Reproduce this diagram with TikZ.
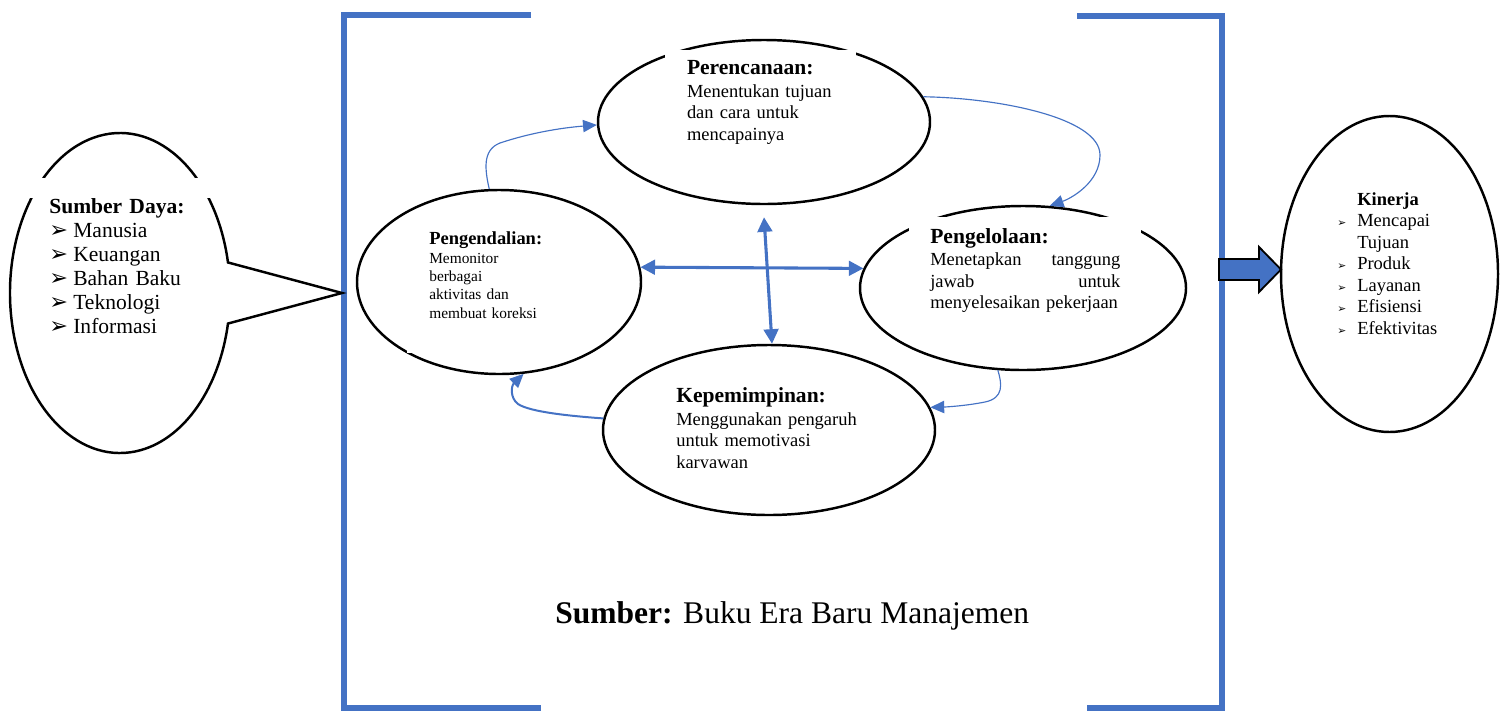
\documentclass[tikz,border=0pt]{standalone}
\usepackage{fontspec}
\setmainfont{Liberation Serif}
\newfontfamily\dejavu{DejaVu Sans}
\usetikzlibrary{shapes.geometric,shapes.callouts,arrows.meta,calc}
\definecolor{obl}{HTML}{4472C4}
\begin{document}
\begin{tikzpicture}[x=0.65pt,y=-0.65pt,
  ell/.style={ellipse, draw=black, line width=1.6pt, inner sep=0pt},
  txt/.style={anchor=base west, inner sep=0pt, align=left, text width=200pt, font=\fontsize{12}{14}\selectfont},
  bracket/.style={draw=obl, line width=3.3pt, line join=miter},
  thin/.style={draw=obl, line width=0.75pt, -{Triangle[length=9pt,width=8pt]}},
  mid/.style={draw=obl, line width=1.3pt, -{Triangle[length=9pt,width=8pt]}},
  dbl/.style={draw=obl, line width=2pt, {Triangle[length=9.5pt,width=9.5pt]}-{Triangle[length=9.5pt,width=9.5pt]}},
]
\useasboundingbox (0,0) rectangle (1506,711);
\newcommand{\bigbul}{\makebox[15.6pt][l]{\dejavu\fontsize{14.5}{14}\selectfont ➢}}
\newcommand{\smbul}{\makebox[13pt][l]{\dejavu\fontsize{7}{7}\selectfont ➢}}

% blue brackets
\draw[bracket] (531,15) -- (344,15) -- (344,708) -- (541,708);
\draw[bracket] (1077,16) -- (1222,16) -- (1222,708) -- (1087,708);

% left callout
\node[ellipse callout, draw=black, line width=1.6pt, inner sep=0pt,
  minimum width=220*0.65pt, minimum height=320*0.65pt,
  callout absolute pointer={(342,293)}, callout pointer arc=22] (sd) at (120,293) {};
\fill[white] (18,178) rectangle (218,198);
\node[txt, font=\fontsize{14}{15.6}\selectfont] (sdt) at (49,213)
  {{\bfseries Sumber Daya:}\\
   \bigbul Manusia\\
   \bigbul Keuangan\\
   \bigbul Bahan Baku\\
   \bigbul Teknologi\\
   \bigbul Informasi};

% ellipses
\node[ell, minimum width=332*0.65pt, minimum height=164*0.65pt] (pr) at (764,122) {};
\node[ell, minimum width=284*0.65pt, minimum height=184*0.65pt] (pd) at (499,282) {};
\node[ell, minimum width=326*0.65pt, minimum height=164*0.65pt] (pl) at (1023,288) {};
\node[ell, minimum width=332*0.65pt, minimum height=170*0.65pt] (kp) at (769,430) {};
\node[ell, minimum width=217*0.65pt, minimum height=316*0.65pt] (ki) at (1389.5,274) {};

% text box patches
\fill[white] (665,49.5) rectangle (856,160);
\fill[white] (909,216.5) rectangle (1141,330);
\fill[white] (407,216) rectangle (560,353);

% texts
\node[txt] (prt) at (686.7,74)
  {{\fontsize{14}{16}\selectfont\bfseries Perencanaan:}\\[1pt]
   Menentukan tujuan\\ dan cara untuk\\ mencapainya};
\node[txt, font=\fontsize{10}{11.9}\selectfont] (pdt) at (429,244)
  {{\fontsize{12}{14}\selectfont\bfseries Pengendalian:}\\[0.6pt]
   Memonitor\\ berbagai\\ aktivitas dan\\ membuat koreksi};
\node[txt, text width=123.5pt] (plt) at (930,243.3)
  {{\fontsize{14}{16}\selectfont\bfseries Pengelolaan:}\\[0.5pt]
   Menetapkan\hfill tanggung\\ jawab\hfill untuk\\ menyelesaikan pekerjaan};
\begin{scope}
\clip (600,380) rectangle (930,467);
\node[txt] (kpt) at (676,402)
  {{\fontsize{14}{16}\selectfont\bfseries Kepemimpinan:}\\[1pt]
   Menggunakan pengaruh\\ untuk memotivasi\\ karyawan};
\end{scope}
\node[txt, font=\fontsize{12}{14}\selectfont] (kit) at (1337,205)
  {\hspace*{13pt}{\bfseries Kinerja}\\
   \smbul Mencapai\\
   \hspace*{13pt}Tujuan\\
   \smbul Produk\\
   \smbul Layanan\\
   \smbul Efisiensi\\
   \smbul Efektivitas};

% source
\node[anchor=base west, inner sep=0pt, font=\fontsize{20.5}{24}\selectfont] (src) at (555,623)
  {\textbf{Sumber:} Buku Era Baru Manajemen};

% block arrow
\draw[fill=obl, draw=black, line width=1.2pt, line join=miter]
  (1219,259) -- (1259,259) -- (1259,247) -- (1281,269.5) -- (1259,292) -- (1259,280) -- (1219,280) -- cycle;

% connectors
\draw[dbl] (pd.6) -- (pl.173.5);
\draw[dbl] ($(pr.south)+(0,12)$) -- (kp.88);
\draw[thin] (pd.96) .. controls (485,170) and (482,150) .. (500,143)
  .. controls (530,133) and (560,128) .. (pr.181);
\draw[thin] (pr.9) .. controls (1000,98) and (1100,118) .. (1100,155)
  .. controls (1100,182) and (1072,198) .. (pl.72);
\draw[thin] (pl.253) .. controls (1002,384) and (1004,398) .. (985,402)
  .. controls (965,406) and (945,407) .. (kp.8);
\draw[mid] (kp.176) .. controls (570,416) and (530,412) .. (518,404)
  .. controls (510,398) and (511,386) .. (pd.285);
\end{tikzpicture}
\end{document}
